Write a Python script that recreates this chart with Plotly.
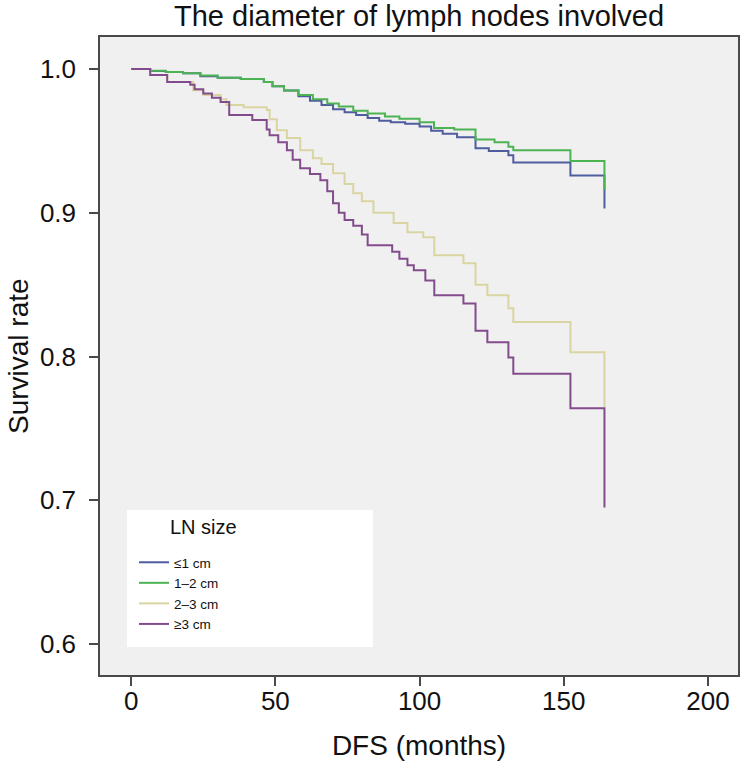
import plotly.graph_objects as go

# ---- data ----
series_names = ["≤1 cm", "1–2 cm", "2–3 cm", "≥3 cm"]

t_le1 = [0, 6.6, 12, 18, 24, 30, 38, 46, 49, 53, 58, 62, 66, 70, 74, 78, 82, 86, 90, 95,
         100, 104, 108, 113, 119.4, 124, 130.8, 132.5, 152.3, 164.1]
s_le1 = [1.0, 0.9986, 0.998, 0.997, 0.995, 0.994, 0.993, 0.991, 0.988, 0.985, 0.981, 0.978,
         0.975, 0.972, 0.970, 0.968, 0.966, 0.964, 0.963, 0.962, 0.960, 0.957, 0.955, 0.9526,
         0.945, 0.943, 0.940, 0.935, 0.926, 0.903]

t_1to2 = [0, 6.6, 12, 18, 24, 30, 38, 46, 49, 53, 58, 63, 68, 72, 77, 82, 88, 93, 100, 105,
          112, 119.4, 126, 130.8, 132.5, 152.3, 164.1]
s_1to2 = [1.0, 0.9988, 0.998, 0.997, 0.9955, 0.994, 0.993, 0.991, 0.988, 0.985, 0.982, 0.979,
          0.976, 0.974, 0.971, 0.969, 0.967, 0.9655, 0.963, 0.959, 0.958, 0.951, 0.949, 0.946,
          0.9436, 0.936, 0.916]

t_2to3 = [0, 6.6, 12.5, 21.5, 25, 31, 33, 39, 47, 48, 50.5, 54, 58.6, 63, 66, 70, 74, 77, 80,
          84, 91, 95.8, 101.3, 105.1, 115.2, 119.4, 123.5, 130.8, 132.5, 152.3, 164.1]
s_2to3 = [1.0, 0.9958, 0.991, 0.9853, 0.982, 0.979, 0.975, 0.9735, 0.9715, 0.965, 0.9575,
          0.952, 0.9436, 0.938, 0.934, 0.9276, 0.920, 0.9136, 0.908, 0.900, 0.893, 0.8865,
          0.883, 0.8705, 0.865, 0.850, 0.8426, 0.8336, 0.824, 0.803, 0.765]

t_ge3 = [0, 6.6, 12.5, 20.5, 22, 25, 28, 31, 34, 42, 47, 48, 51, 54, 56, 58.6, 62, 65.6, 68,
         70, 72, 74, 77, 80, 82, 90.5, 93, 95.8, 98, 102, 105.1, 115.2, 119.4, 123.5, 130.8,
         132.5, 152.3, 164.1]
s_ge3 = [1.0, 0.9958, 0.991, 0.989, 0.986, 0.983, 0.980, 0.977, 0.968, 0.9645, 0.958, 0.954,
         0.949, 0.9436, 0.937, 0.931, 0.927, 0.9227, 0.915, 0.9067, 0.900, 0.895, 0.891, 0.885,
         0.8775, 0.873, 0.868, 0.8635, 0.860, 0.853, 0.8426, 0.837, 0.818, 0.810, 0.7994,
         0.788, 0.764, 0.695]

x_ticks = [0, 50, 100, 150, 200]
y_ticks = [0.6, 0.7, 0.8, 0.9, 1.0]
y_tick_labels = ["0.6", "0.7", "0.8", "0.9", "1.0"]

colors = ["#4f5c9e", "#4cb353", "#d9d5a2", "#824c8c"]

FONT = "Liberation Sans, Arial, sans-serif"

fig = go.Figure()
for name, t, s, c in zip(series_names, [t_le1, t_1to2, t_2to3, t_ge3],
                         [s_le1, s_1to2, s_2to3, s_ge3], colors):
    fig.add_trace(go.Scatter(x=t, y=s, mode="lines", name=name,
                             line=dict(color=c, width=2, shape="hv")))

axis_common = dict(showline=True, linecolor="#4a4a4a", linewidth=1.5, mirror=True,
                   ticks="outside", ticklen=9, tickwidth=1.5, tickcolor="#4a4a4a",
                   showgrid=False, zeroline=False, automargin=False,
                   tickfont=dict(family=FONT, size=26, color="#111"))

# body margin is removed below (post_script), so the figure sits at (0, 0)
W, H = 744, 768
# plot-area geometry in pixels
L, R, T, B = 100, 738, 37, 675
PW, PH = R - L, B - T


def px_x(page_x):
    return (page_x - L) / PW


def px_y(page_y):
    return (B - page_y) / PH


fig.update_layout(
    width=W, height=H,
    margin=dict(l=L, r=W - R, t=T, b=H - B),
    paper_bgcolor="white", plot_bgcolor="#f0f0f0",
    title=dict(text="The diameter of lymph nodes involved", x=419 / W,
               xanchor="center", y=1 - 16 / H, yanchor="middle", automargin=False,
               font=dict(family=FONT, size=29, color="#111")),
    xaxis=dict(range=[-10.8, 210.4], tickvals=x_ticks, ticklabelstandoff=-7,
               title=dict(text="DFS (months)", font=dict(family=FONT, size=28, color="#111"),
                          standoff=20),
               **axis_common),
    yaxis=dict(range=[0.5785, 1.0223], tickvals=y_ticks, ticktext=y_tick_labels,
               ticklabelstandoff=8, **axis_common),
    showlegend=True,
    legend=dict(x=px_x(134), y=px_y(547), xanchor="left", yanchor="top",
                bgcolor="rgba(0,0,0,0)", borderwidth=0,
                font=dict(family=FONT, size=13.5, color="#111"),
                tracegroupgap=0, itemwidth=30),
    shapes=[dict(type="rect", xref="paper", yref="paper",
                 x0=px_x(127), x1=px_x(373), y0=px_y(647), y1=px_y(510),
                 fillcolor="white", line=dict(width=0), layer="below")],
    annotations=[
        dict(text="LN size", xref="paper", yref="paper",
             x=px_x(168), y=px_y(527), xanchor="left",
             yanchor="middle", showarrow=False,
             font=dict(family=FONT, size=20, color="#111")),
        dict(text="Survival rate", xref="paper", yref="paper",
             x=px_x(18), y=px_y(356), xanchor="center", yanchor="middle",
             textangle=-90, showarrow=False,
             font=dict(family=FONT, size=28, color="#111")),
    ],
)

fig.write_html("out.html", config={"displayModeBar": False},
               post_script="document.body.style.margin='0';document.body.style.padding='0';")
